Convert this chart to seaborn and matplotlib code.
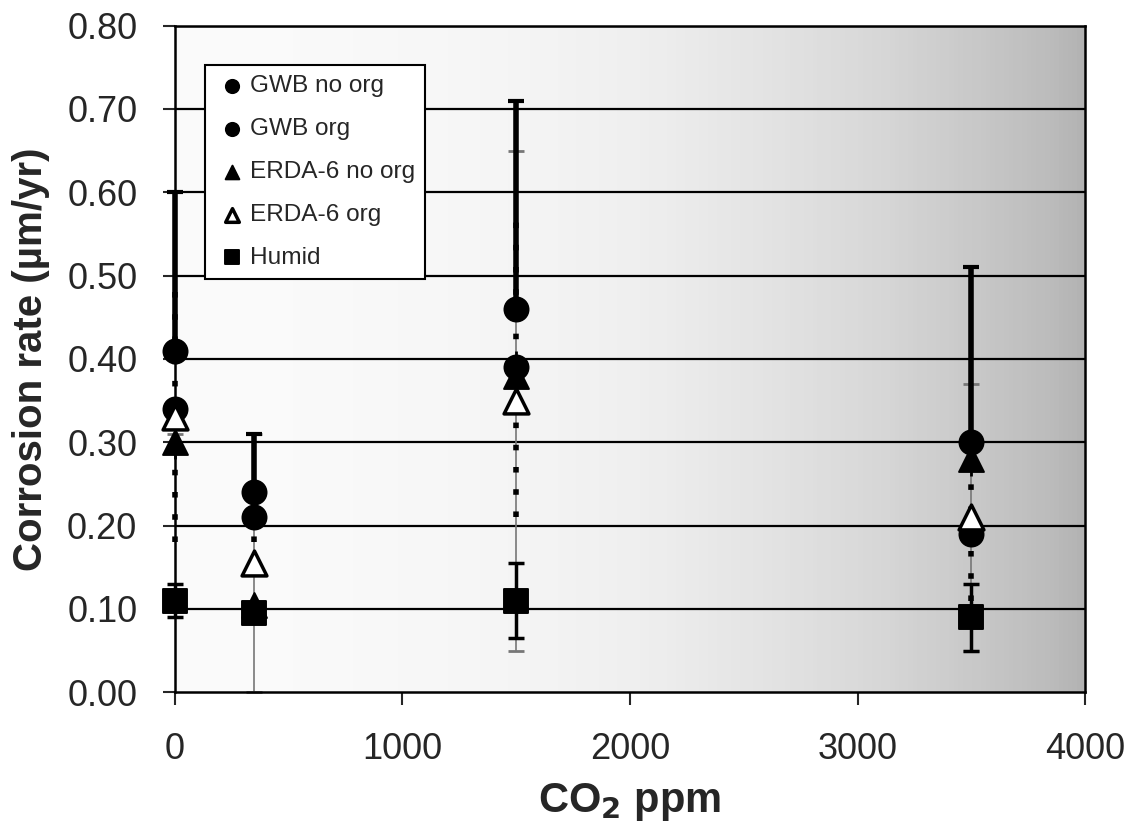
import numpy as np
import matplotlib
matplotlib.use("Agg")
import matplotlib.pyplot as plt
import seaborn as sns

# CO2 levels (ppm)
co2 = [0, 350, 1500, 3500]

# corrosion rates (um/yr)
gwb_no_org = [0.41, 0.24, 0.46, 0.30]
gwb_no_org_err = [0.19, 0.07, 0.25, 0.21]
gwb_org = [0.34, 0.21, 0.39, 0.19]
gwb_org_err = [0.16, 0.03, 0.18, 0.08]
erda_no_org = [0.30, 0.105, 0.38, 0.28]
erda_no_org_err = [0.02, 0.01, 0.03, 0.02]
erda_org = [0.33, 0.155, 0.35, 0.21]
erda_org_err = [0.02, 0.155, 0.30, 0.16]
humid = [0.11, 0.095, 0.11, 0.09]
humid_err = [0.02, 0.0, 0.045, 0.04]

labels = ["GWB no org", "GWB org", "ERDA-6 no org", "ERDA-6 org", "Humid"]
yticks = [0.0, 0.1, 0.2, 0.3, 0.4, 0.5, 0.6, 0.7, 0.8]
xticks = [0, 1000, 2000, 3000, 4000]

sns.set_style("white")
plt.rcParams['font.family'] = ['Liberation Sans', 'DejaVu Sans']

fig = plt.figure(figsize=(11.28, 8.27), dpi=100)
ax = fig.add_axes([0.155, 0.163, 0.807, 0.806])

# scanned-paper look: light grey getting darker to the right
grad = np.linspace(0, 1, 200).reshape(1, -1)
ax.imshow(grad ** 2, cmap="Greys", vmin=-0.1, vmax=2.6, extent=[0, 4000, 0, 0.8],
          aspect="auto", zorder=0)

for v in yticks[1:]:
    ax.axhline(v, color="black", lw=1.6, zorder=1)

# error bars
ax.errorbar(co2, erda_org, yerr=erda_org_err, fmt="none", ecolor="#777777", elinewidth=1.2,
            capsize=6, capthick=2, zorder=2, clip_on=False)
ax.errorbar(co2, gwb_no_org, yerr=[[0] * 4, gwb_no_org_err], fmt="none", ecolor="black",
            elinewidth=4, capsize=6, capthick=3, zorder=3, clip_on=False)
eb = ax.errorbar(co2, gwb_org, yerr=gwb_org_err, fmt="none", ecolor="black", elinewidth=4,
                 capsize=0, zorder=3, clip_on=False)
eb[2][0].set_linestyle((0, (1, 3)))
ax.errorbar(co2, humid, yerr=humid_err, fmt="none", ecolor="black", elinewidth=2.5,
            capsize=6, capthick=2.5, zorder=3, clip_on=False)
ax.errorbar(co2, erda_no_org, yerr=erda_no_org_err, fmt="none", ecolor="black", elinewidth=2,
            capsize=0, zorder=3, clip_on=False)

sns.scatterplot(x=co2, y=gwb_no_org, marker="o", s=300, color="black", edgecolor="black",
                label=labels[0], ax=ax, zorder=5, clip_on=False)
sns.scatterplot(x=co2, y=gwb_org, marker="o", s=300, color="black", edgecolor="black",
                label=labels[1], ax=ax, zorder=5, clip_on=False)
sns.scatterplot(x=co2, y=erda_no_org, marker="^", s=320, color="black", edgecolor="black",
                label=labels[2], ax=ax, zorder=5, clip_on=False)
sns.scatterplot(x=co2, y=erda_org, marker="^", s=320, color="white", edgecolor="black",
                linewidth=2.5, label=labels[3], ax=ax, zorder=6, clip_on=False)
sns.scatterplot(x=co2, y=humid, marker="s", s=300, color="black", edgecolor="black",
                label=labels[4], ax=ax, zorder=6, clip_on=False)

ax.set_xlim(0, 4000)
ax.set_ylim(0, 0.8)
ax.set_xticks(xticks)
ax.set_yticks(yticks)
ax.set_yticklabels([f"{v:.2f}" for v in yticks])
ax.tick_params(labelsize=26, length=9, width=1.5, direction="out", bottom=True, left=True)
ax.tick_params(axis="y", pad=18)
ax.tick_params(axis="x", pad=20)
for s in ax.spines.values():
    s.set_color("black")
    s.set_linewidth(1.8)

ax.set_xlabel("CO$_\\mathbf{2}$ ppm", fontsize=30, fontweight="bold", labelpad=10)
ax.set_ylabel("Corrosion rate (µm/yr)", fontsize=29, fontweight="bold", labelpad=12)

leg = ax.legend(loc="upper left", bbox_to_anchor=(0.033, 0.9414), borderaxespad=0,
                fontsize=17.6, frameon=True, fancybox=False, edgecolor="black",
                framealpha=1, markerscale=0.55, handlelength=1.35, handletextpad=0.05,
                labelspacing=0.85, borderpad=0.43)
leg.get_frame().set_linewidth(1.5)
leg.set_zorder(10)

fig.savefig("out.png", dpi=100)
